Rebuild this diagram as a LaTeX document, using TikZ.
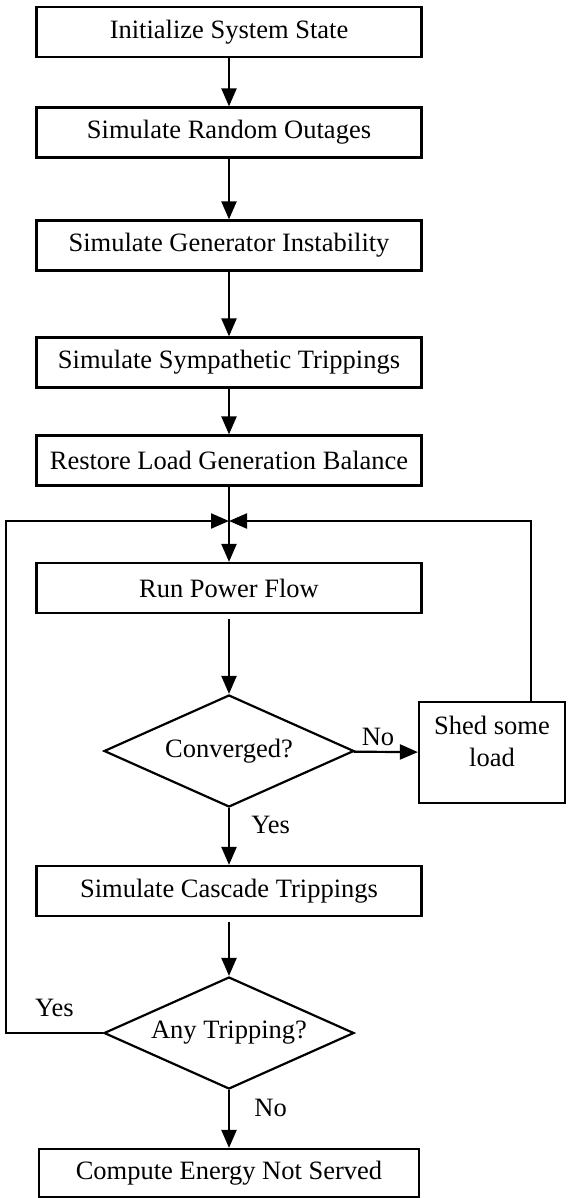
\documentclass[tikz,border=0pt]{standalone}
\usepackage{fontspec}
\setmainfont{Liberation Serif}
\usetikzlibrary{shapes.geometric,arrows.meta}

\begin{document}
\begin{tikzpicture}[x=1pt,y=-1pt,
  font=\fontsize{26.5}{32}\selectfont,
  stepbox/.style={draw,line width=2.2pt,rectangle,minimum width=385pt,minimum height=50pt,inner sep=0pt},
  testbox/.style={draw,line width=2.2pt,diamond,aspect=2.2,minimum width=250pt,minimum height=112pt,inner sep=0pt},
  flow/.style={line width=2.2pt,-{Triangle[length=18pt,width=15pt]}}]
  \useasboundingbox (0,0) rectangle (567,1198);

  \node[stepbox] (init) at (229,32) {Initialize System State};
  \node[stepbox] (outage) at (229,132.5) {Simulate Random Outages};
  \node[stepbox] (geninst) at (229,245.5) {Simulate Generator Instability};
  \node[stepbox] (sympat) at (229,362.5) {Simulate Sympathetic Trippings};
  \node[stepbox] (restore) at (229,460.5) {Restore Load Generation Balance};
  \coordinate (merge) at (229,521);
  \node[stepbox] (powflow) at (229,588) {Run Power Flow};
  \node[testbox] (conv) at (229,751) {Converged?};
  \node[stepbox,minimum width=146pt,minimum height=101pt] (shed) at (492,752.5) {};
  \node[align=center] (shedtxt) at (492,741) {Shed some\\load};
  \node[stepbox] (cascade) at (229,891) {Simulate Cascade Trippings};
  \node[testbox] (anytrip) at (229,1033) {Any Tripping?};
  \node[stepbox,minimum width=380pt,minimum height=48pt] (ens) at (229,1173) {Compute Energy Not Served};

  \foreach \a/\b in {init/outage,outage/geninst,geninst/sympat,sympat/restore,restore/powflow}
    \draw[flow] (\a) -- (\b);
  \draw[flow,shorten <=5pt] (powflow) -- (conv);
  \draw[flow,shorten <=5pt] (cascade) -- (anytrip);

  \draw[flow] (conv) -- node[pos=0.3,right,xshift=18pt] (yesconv) {Yes} (cascade);
  \draw[flow] (anytrip) -- node[pos=0.3,right,xshift=21pt] (notrip) {No} (ens);
  \draw[flow] (conv) -- node[pos=0.38,above,yshift=2pt] (noconv) {No} (shed);
  % loop backs to the merge point
  \draw[flow] ([xshift=39pt]shed.north) |- (merge);
  \draw[flow] (anytrip.west) -- node[above,yshift=12pt] (yestrip) {Yes} ++(-97,0) |- (merge);
\end{tikzpicture}
\end{document}
